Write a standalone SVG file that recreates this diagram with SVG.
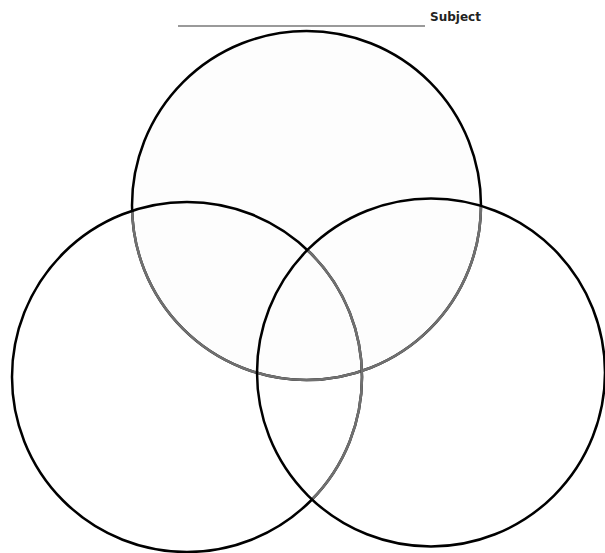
<svg xmlns="http://www.w3.org/2000/svg" width="605" height="553" viewBox="0 0 605 553">
<style>
.c{stroke:#000;stroke-width:2.5;fill:none}
.g{stroke:#707070;stroke-width:2.6;fill:none}
.t{font-family:"DejaVu Sans",Verdana,sans-serif;font-weight:bold;font-size:12px;fill:#222}
</style>
<defs>
<circle id="cT" cx="306.5" cy="205.5" r="174.5"/>
<circle id="cL" cx="187" cy="377" r="175"/>
<circle id="cR" cx="431" cy="372.5" r="174"/>
<clipPath id="inLR"><use href="#cL"/><use href="#cR"/></clipPath>
<clipPath id="inR"><use href="#cR"/></clipPath>
</defs>
<rect width="605" height="553" fill="#fff"/>
<g id="header">
<line x1="178" y1="26" x2="425" y2="26" stroke="#9a9a9a" stroke-width="2"/>
<text class="t" x="430" y="21">Subject</text>
</g>
<g id="circle-top">
<use href="#cT" class="c" style="fill:#fdfdfd"/>
<use href="#cT" class="g" clip-path="url(#inLR)"/>
</g>
<g id="circle-left">
<use href="#cL" class="c"/>
<use href="#cL" class="g" clip-path="url(#inR)"/>
</g>
<g id="circle-right"><use href="#cR" class="c"/></g>
<g id="connectors"/>
</svg>
